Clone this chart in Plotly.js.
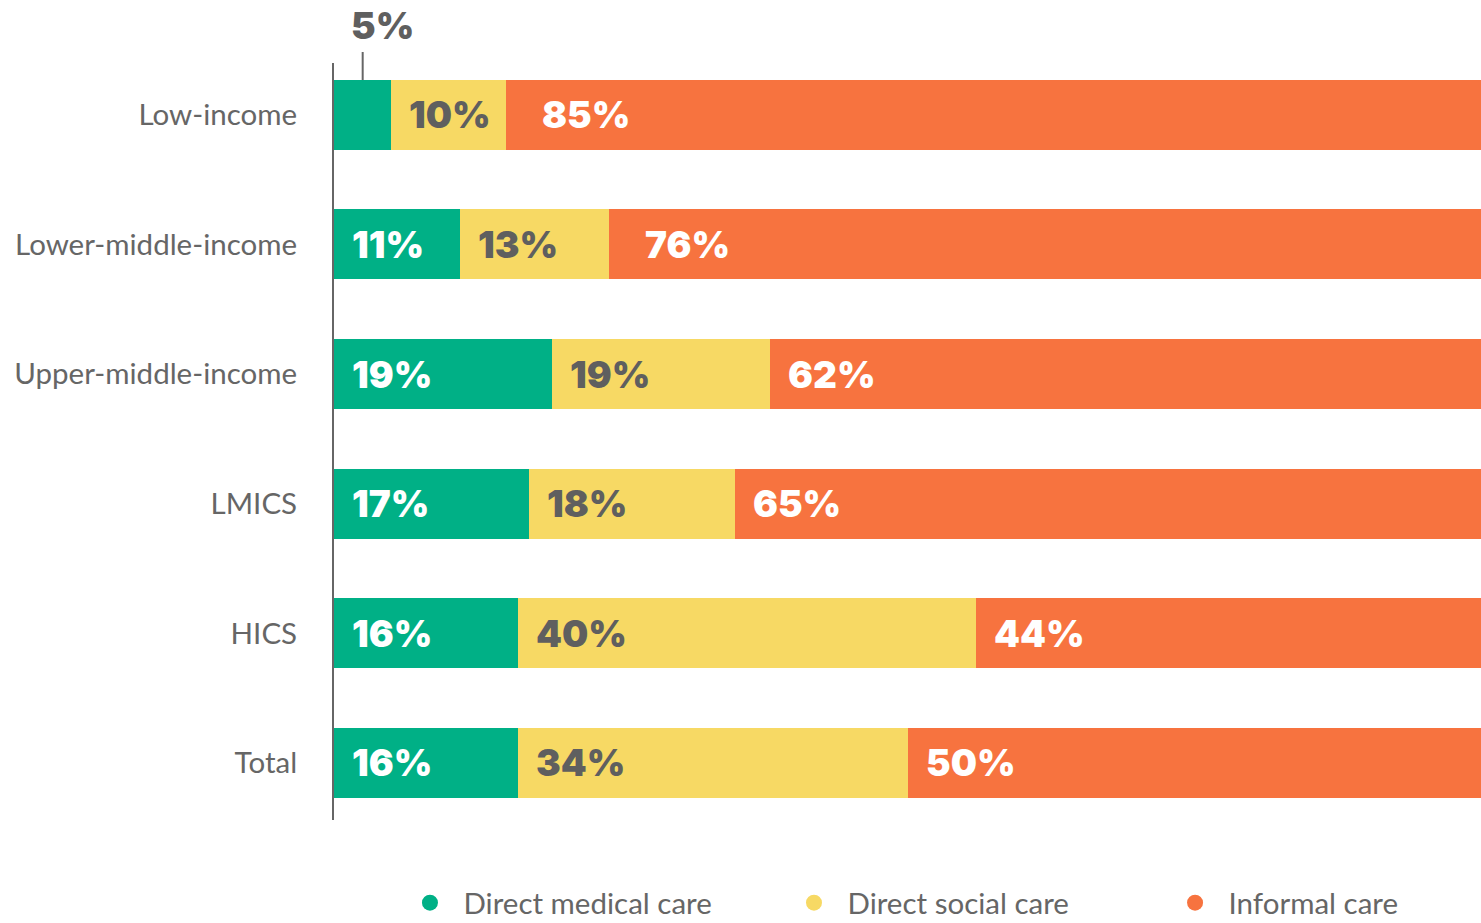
<!DOCTYPE html>
<html><head><meta charset="utf-8">
<script src="https://cdn.plot.ly/plotly-3.0.1.min.js"></script>
<style>html,body{margin:0;padding:0;background:#fff;}#chart{width:1481px;height:923px;}</style>
</head><body><div id="chart"></div>
<script>
const categories = ["Low-income","Lower-middle-income","Upper-middle-income","LMICS","HICS","Total"];
const seriesNames = ["Direct medical care","Direct social care","Informal care"];
const medical = [5, 11, 19, 17, 16, 16];
const social = [10, 13, 19, 18, 40, 34];
const informal = [85, 76, 62, 65, 44, 50];
const colors = ["#00B086","#F7D964","#F7733F"];
const labelColors = ["#ffffff","#5f5f5f","#ffffff"];

const series = [medical, social, informal];
const catOrder = categories.slice().reverse();
const legendIds = ['legend','legend2','legend3'];
const traces = [];
series.forEach((vals, i) => {
  traces.push({type:'bar', orientation:'h', name:seriesNames[i], x:vals, y:categories,
    marker:{color:colors[i], line:{width:0}}, showlegend:false, hoverinfo:'x+y'});
});
series.forEach((vals, i) => {
  traces.push({type:'scatter', mode:'markers', name:seriesNames[i], x:[null], y:[null],
    legend:legendIds[i],
    marker:{color:colors[i], size:21, symbol:'circle'}, showlegend:true, hoverinfo:'skip'});
});

const valueFont = {family:'Inter, "DejaVu Sans", sans-serif', size:37, weight:900};
const annotations = [];
categories.forEach((c, k) => {
  let start = 0;
  series.forEach((vals, i) => {
    const v = vals[k];
    if (!(k === 0 && i === 0)) {
      annotations.push({x:start, y:c, xref:'x', yref:'y', text:v + '%', showarrow:false,
        xanchor:'left', yanchor:'middle', xshift:(i===2 && (k===0||k===1)) ? 34 : 16,
        font:Object.assign({}, valueFont, {color:labelColors[i]})});
    }
    start += v;
  });
});
// callout for small segment
annotations.push({x:medical[0]/2, y:1.05, xref:'x', yref:'paper', text:medical[0] + '%', showarrow:false,
  xanchor:'left', yanchor:'middle', xshift:-14, font:Object.assign({}, valueFont, {color:'#5f5f5f'})});

const legendBase = {orientation:'h', xref:'container', xanchor:'left', y:-0.1096, yanchor:'middle',
  font:{family:'Lato, sans-serif', size:29.5, color:'#666'}, itemwidth:57, bgcolor:'rgba(0,0,0,0)'};
const legendX = [0.2677, 0.527, 0.7843];

const layout = {
  width:1481, height:923,
  margin:{l:334, r:0, t:63, b:103, pad:0, autoexpand:false},
  paper_bgcolor:'#fff', plot_bgcolor:'#fff',
  barmode:'stack', bargap:0.46,
  xaxis:{range:[0,100], showgrid:false, zeroline:false, showline:false, showticklabels:false, fixedrange:true},
  yaxis:{type:'category', categoryorder:'array', categoryarray:catOrder, range:[-0.44, 5.40],
    showgrid:false, zeroline:false, showline:true, linecolor:'#666', linewidth:2, ticks:'',
    ticklabelstandoff:29,
    tickfont:{family:'Lato, "Open Sans", sans-serif', size:29.5, color:'#666'}},
  shapes:[{type:'line', xref:'x', yref:'paper', x0:medical[0]/2, x1:medical[0]/2, y0:0.9775, y1:1.0145,
    line:{color:'#666', width:2}}],
  annotations:annotations,
  legend:Object.assign({}, legendBase, {x:legendX[0]}),
  legend2:Object.assign({}, legendBase, {x:legendX[1]}),
  legend3:Object.assign({}, legendBase, {x:legendX[2]}),
  showlegend:true
};
Plotly.newPlot('chart', traces, layout, {displayModeBar:false, staticPlot:true});
</script></body></html>
